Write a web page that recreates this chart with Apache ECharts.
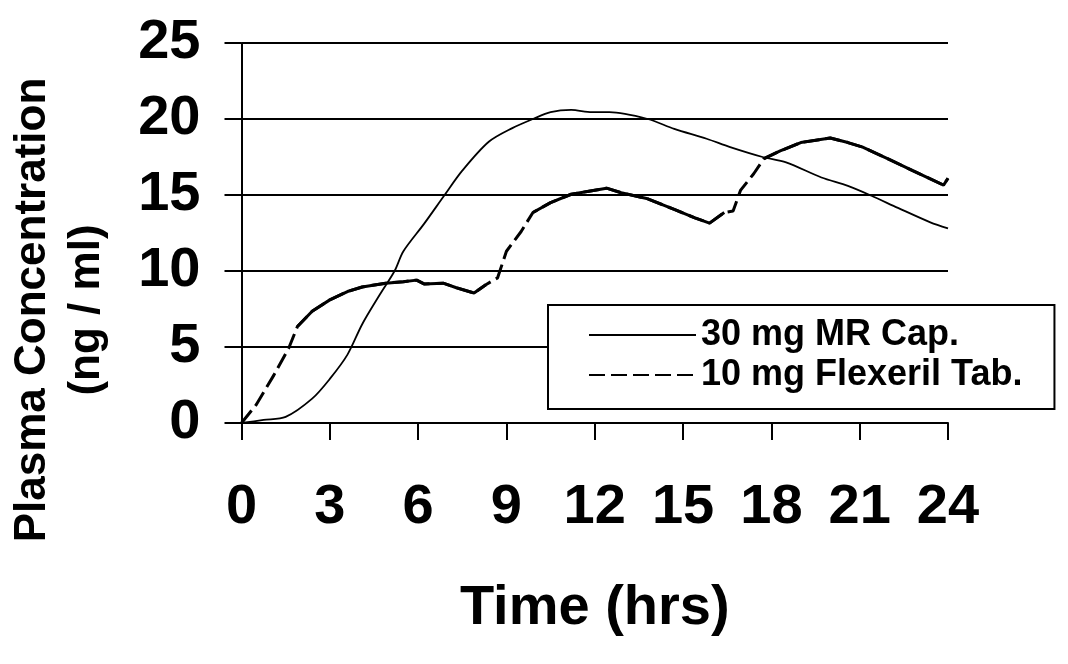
<!DOCTYPE html>
<html>
<head>
<meta charset="utf-8">
<title>Plasma Concentration</title>
<script src="https://cdn.jsdelivr.net/npm/echarts@6/dist/echarts.min.js"></script>
<style>
  html, body { margin: 0; padding: 0; background: #fff; }
  #chart { width: 1068px; height: 664px; }
</style>
</head>
<body>
<div id="chart"></div>
<script>
// values (hrs, ng/ml)
var mrTime = [0, 0.75, 1.5, 2.4, 3.0, 3.6, 4.1, 4.7, 5.2, 5.5, 6.2, 6.9, 7.5, 8.4, 9.2, 9.9, 10.5, 11.2, 11.9, 12.5, 13.8, 14.7, 15.8, 16.6, 17.7, 18.5, 19.7, 20.6, 21.4, 22.3, 23.4, 24];
var mrConc = [0, 0.2, 0.4, 1.6, 2.9, 4.5, 6.5, 8.45, 10.0, 11.3, 13.1, 15.0, 16.6, 18.5, 19.4, 20.0, 20.45, 20.6, 20.45, 20.45, 20.0, 19.35, 18.7, 18.15, 17.5, 17.15, 16.15, 15.6, 14.95, 14.15, 13.2, 12.8];

var flexTime = [0, 0.5, 1.1, 1.6, 1.9, 2.4, 3.0, 3.6, 4.1, 4.9, 5.5, 5.95, 6.2, 6.85, 7.3, 7.9, 8.3, 8.7, 9.0, 9.5, 9.9, 10.5, 11.2, 11.8, 12.4, 12.9, 13.8, 14.7, 15.4, 15.9, 16.4, 16.7, 16.95, 17.4, 17.75, 18.3, 19.0, 20.0, 20.6, 21.1, 22.0, 22.8, 23.85, 24];
var flexConc = [0, 1.2, 3.15, 4.9, 6.35, 7.35, 8.1, 8.65, 8.95, 9.2, 9.3, 9.4, 9.15, 9.2, 8.9, 8.55, 9.1, 9.55, 11.3, 12.6, 13.85, 14.5, 15.05, 15.25, 15.45, 15.15, 14.75, 14.05, 13.5, 13.15, 13.85, 13.95, 15.3, 16.4, 17.4, 17.9, 18.45, 18.75, 18.45, 18.15, 17.35, 16.6, 15.65, 16.1];

var xTicks = [0, 3, 6, 9, 12, 15, 18, 21, 24];
var yTicks = [0, 5, 10, 15, 20, 25];

var names = ['30 mg MR Cap.', '10 mg Flexeril Tab.'];
// in the scan the tablet curve only looks broken where it climbs after each dose
var doseRises = [[0, 1.9], [8.3, 9.9], [16.4, 17.75]];

var font = 'Liberation Sans, Arial, sans-serif';

function pairs(t, c) {
  return t.map(function(x, i) { return [x, c[i]]; });
}

function inRise(x) {
  return doseRises.some(function(r) { return x > r[0] && x < r[1]; });
}

var chart = echarts.init(document.getElementById('chart'));
chart.setOption({
  animation: false,
  backgroundColor: '#fff',
  grid: { left: 241.5, right: 120, top: 43, bottom: 241, containLabel: false, outerBoundsMode: 'none' },
  legend: {
    data: names,
    orient: 'vertical',
    left: 548, top: 305,
    backgroundColor: '#fff',
    borderColor: '#000', borderWidth: 2,
    padding: [10, 32, 14, 40],
    itemWidth: 107, itemHeight: 14, itemGap: 0,
    itemStyle: { opacity: 0 },
    textStyle: { fontFamily: font, fontWeight: 'bold', fontSize: 36, lineHeight: 40, color: '#000' }
  },
  xAxis: {
    type: 'value', min: 0, max: 24, interval: 3,
    name: 'Time (hrs)', nameLocation: 'middle', nameGap: 158,
    nameTextStyle: { fontFamily: font, fontWeight: 'bold', fontSize: 56, color: '#000' },
    axisLine: { lineStyle: { color: '#000', width: 2 } },
    axisTick: { length: 17, lineStyle: { color: '#000', width: 2 } },
    axisLabel: {
      margin: 57, fontFamily: font, fontWeight: 'bold', fontSize: 56, color: '#000',
      customValues: xTicks
    },
    splitLine: { show: false }
  },
  yAxis: {
    type: 'value', min: 0, max: 25, interval: 5,
    name: 'Plasma Concentration\n(ng / ml)', nameLocation: 'middle', nameGap: 128, nameRotate: 90,
    nameTextStyle: {
      fontFamily: font, fontWeight: 'bold', fontSize: 44, lineHeight: 54, color: '#000',
      padding: [0, 154, 0, 0]
    },
    axisLine: { show: true, lineStyle: { color: '#000', width: 2 } },
    axisTick: { show: true, length: 17, lineStyle: { color: '#000', width: 2 } },
    axisLabel: {
      margin: 41, fontFamily: font, fontWeight: 'bold', fontSize: 56, color: '#000',
      customValues: yTicks
    },
    splitLine: { show: true, lineStyle: { color: '#000', width: 2 } }
  },
  series: [
    {
      name: names[0], type: 'line', symbol: 'none', smooth: 0.3,
      itemStyle: { color: '#000' },
      lineStyle: { color: '#000', width: 1.8 },
      data: pairs(mrTime, mrConc), z: 3
    },
    {
      name: names[1], type: 'line', symbol: 'none',
      itemStyle: { color: '#000' },
      lineStyle: { color: '#000', width: 3, type: [16, 6] },
      data: pairs(flexTime, flexConc), z: 3
    },
    {
      // solid stretches of the tablet curve, not in the legend
      type: 'line', symbol: 'none', silent: true, connectNulls: false,
      lineStyle: { color: '#000', width: 3 },
      data: flexTime.map(function(x, i) { return [x, inRise(x) ? null : flexConc[i]]; }), z: 3
    }
  ]
});
</script>
</body>
</html>
